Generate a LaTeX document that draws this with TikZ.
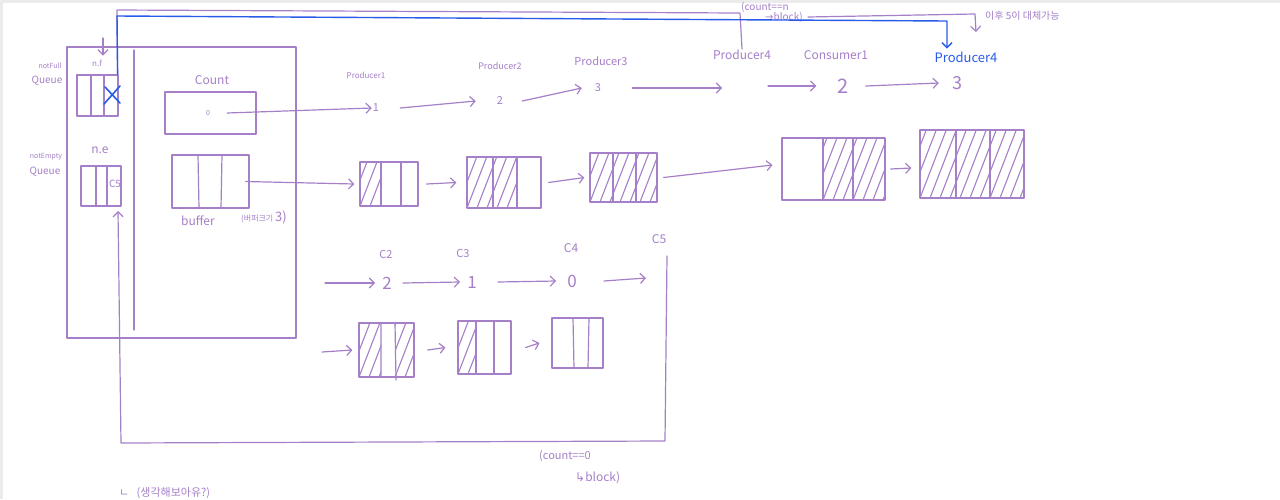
\documentclass[tikz,border=0pt]{standalone}
\usepackage{fontspec}
\setmainfont{Noto Sans CJK KR}
\newfontfamily\djv{DejaVu Sans}
\usetikzlibrary{arrows.meta}
\definecolor{pen}{RGB}{165,128,200}
\definecolor{bpen}{RGB}{40,92,232}
\newcommand\fs[1]{\fontsize{#1}{#1}\selectfont}
\tikzset{
  ink/.style={draw=pen, line width=1.2pt, line cap=round, line join=round},
  bink/.style={draw=bpen, line width=1.4pt, line cap=round, line join=round},
  box/.style={ink, rectangle, inner sep=0pt},
  lbl/.style={text=pen, inner sep=1pt},
  arr/.style={ink, -{Straight Barb[length=5pt,width=10pt]}},
  barr/.style={bink, -{Straight Barb[length=5pt,width=10pt]}},
  hatchline/.style={draw=pen, line width=1.1pt, line cap=round}
}
\newcommand\myhatch[4]{\begin{scope}\clip (#1,#2) rectangle (#3,#4);
  \foreach \s in {-30,-20,...,110}{\draw[hatchline] ({#1+\s},{#4}) -- ++(27,-70);}
\end{scope}}
\begin{document}
\begin{tikzpicture}[x=1pt,y=-1pt]
\useasboundingbox (0,0) rectangle (1280,499);
\fill[white] (0,0) rectangle (1280,499);
\fill[black!8] (0,0) rectangle (1280,3);
\fill[black!8] (0,0) rectangle (3,499);

% left container
\node[box, minimum width=229, minimum height=291] (outer) at (181.5,192.5) {};
\draw[ink] (134,50) -- (134,330);

% queue labels
\node[lbl, font=\fs{7}] (nflbl) at (50,66) {notFull};
\node[lbl, font=\fs{10}] (nfqlbl) at (47,81) {Queue};
\node[lbl, font=\fs{7}] (nelbl) at (46,157) {notEmpty};
\node[lbl, font=\fs{10}] (neqlbl) at (45,172) {Queue};

% notFull queue
\node[lbl, font=\fs{8}] (nf) at (97,63) {n.f};
\coordinate (nfmark) at (103,38);
\draw[arr] (nfmark) -- ([xshift=6pt,yshift=3pt]nf.north);
\node[box, minimum width=41, minimum height=41] (nfq) at (97.5,95.5) {};
\draw[ink] (91,75) -- (91,116) (104,75) -- (104,116);
\draw[bink, line width=1.6pt] (105,87) -- (120,103) (120,86) -- (104,104);

% notEmpty queue
\node[lbl, font=\fs{12}] (ne) at (100,150) {n.e};
\node[box, minimum width=40, minimum height=40] (neq) at (101,186) {};
\draw[ink] (96,166) -- (96,206) (107,166) -- (107,206);
\node[lbl, font=\fs{10}] (c5q) at (115,184) {C5};
\coordinate (netip) at (118,211);

% count
\node[lbl, font=\fs{12}] (countlbl) at (212,80) {Count};
\node[box, minimum width=91, minimum height=42] (countbox) at (210.5,113) {};
\node[lbl, font=\fs{7}] (zero) at (208,113) {0};

% buffer
\node[box, minimum width=77, minimum height=53] (bufbox) at (210.5,181.5) {};
\draw[ink] (198,155) -- (199,208) (222,155) -- (221,208);
\node[lbl, font=\fs{12}, anchor=west] (buflbl) at (180,221) {buffer};
\node[lbl, font=\fs{8}, anchor=west] (bufsz) at (240,217) {(버퍼크기 \fs{13}3)};

% producer row
\node[lbl, font=\fs{8}] (p1) at (366,75) {Producer1};
\node[lbl, font=\fs{11}] (n1) at (376,108) {1};
\node[lbl, font=\fs{9}] (p2) at (500,66) {Producer2};
\node[lbl, font=\fs{11}] (n2) at (500,101) {2};
\node[lbl, font=\fs{11}] (p3) at (601,61) {Producer3};
\node[lbl, font=\fs{11}] (n3) at (598,88) {3};
\node[lbl, font=\fs{12}] (p4a) at (742,55) {Producer4};
\coordinate (gapL) at (722,88);
\coordinate (gapR) at (768,86);
\node[lbl, font=\fs{12}] (c1) at (836,55) {Consumer1};
\node[lbl, font=\fs{20}] (c1n) at (843,86) {2};
\node[text=bpen, inner sep=1pt, font=\fs{13}] (p4b) at (966,57) {Producer4};
\node[lbl, font=\fs{18}] (p4n) at (957,83) {3};

\draw[arr] ([xshift=16pt]zero.east) -- (n1.west);
\draw[arr] ([xshift=20pt]n1.east) -- ([xshift=-20pt]n2.west);
\draw[arr] ([xshift=18pt]n2.east) -- ([xshift=-12pt]n3.west);
\draw[arr] ([xshift=30pt]n3.east) -- (gapL);
\draw[arr] (gapR) -- ([xshift=-20pt]c1n.west);
\draw[arr] ([xshift=16pt]c1n.east) -- ([xshift=-12pt]p4n.west);

% top notes
\node[lbl, font=\fs{10}, anchor=west] (cntn) at (740,7) {(count==n};
\node[lbl, font=\fs{10}, anchor=west] (blk1) at (764,17) {{\djv→}block)};
\coordinate (topL) at (117,10);
\draw[ink] ([xshift=-1pt]nfq.north east) -- (topL) -- (740,13) -- (p4a.north);
\draw[barr] ([xshift=-1pt]nfq.north east) -- (117,16) -- (947,21) -- ([yshift=2pt]p4b.north -| 947,0);
\draw[arr] ([xshift=4pt]blk1.east) -- (975,14) -- (976,32);
\node[lbl, font=\fs{10}, anchor=west] (note1) at (984,16) {이후 5이 대체가능};

% buffer states row
\node[box, minimum width=58, minimum height=44] (b1) at (389,184) {};
\myhatch{360}{162}{381}{206}
\draw[ink] (381,162) -- (381,206) (401,162) -- (401,206);
\node[box, minimum width=74, minimum height=51] (b2) at (504,182.5) {};
\myhatch{467}{157}{517}{208}
\draw[ink] (493,157) -- (493,208) (517,157) -- (517,208);
\node[box, minimum width=67, minimum height=49] (b3) at (623.5,177.5) {};
\myhatch{590}{153}{657}{202}
\draw[ink] (613,153) -- (613,202) (636,153) -- (636,202);
\node[box, minimum width=103, minimum height=62] (b4) at (833.5,169) {};
\myhatch{823}{138}{885}{200}
\draw[ink] (823,138) -- (823,200) (853,138) -- (853,200);
\node[box, minimum width=104, minimum height=68] (b5) at (972,164) {};
\myhatch{920}{130}{1024}{198}
\draw[ink] (956,130) -- (956,198) (990,130) -- (990,198);

\draw[arr] ([xshift=-4pt]bufbox.east) -- ([xshift=-5pt]b1.west);
\draw[arr] ([xshift=8pt]b1.east) -- ([xshift=-10pt]b2.west);
\draw[arr] ([xshift=7pt]b2.east) -- ([xshift=-5pt]b3.west);
\draw[arr] ([xshift=6pt]b3.east) -- ([xshift=-9pt,yshift=4pt]b4.west);
\draw[arr] ([xshift=5pt]b4.east) -- ([xshift=-8pt,yshift=-4pt]b5.west);

% consumer row
\node[lbl, font=\fs{11}] (c2) at (386,254) {C2};
\node[lbl, font=\fs{17}] (r2) at (387,283) {2};
\node[lbl, font=\fs{11}] (c3) at (463,253) {C3};
\node[lbl, font=\fs{17}] (r1) at (472,282) {1};
\node[lbl, font=\fs{12}] (c4) at (571,248) {C4};
\node[lbl, font=\fs{17}] (r0) at (572,281) {0};
\node[lbl, font=\fs{12}] (c5) at (659,239) {C5};
\coordinate (s3) at (325,283);
\coordinate (e3) at (646,278);
\draw[arr] (s3) -- ([xshift=-6pt]r2.west);
\draw[arr] ([xshift=10pt]r2.east) -- ([xshift=-6pt]r1.west);
\draw[arr] ([xshift=20pt]r1.east) -- ([xshift=-10pt]r0.west);
\draw[arr] ([xshift=26pt]r0.east) -- (e3);

\node[box, minimum width=55, minimum height=54] (b6) at (386.5,350) {};
\myhatch{359}{323}{381}{377}
\myhatch{395}{323}{414}{377}
\draw[ink] (381,323) -- (381,377) (395,323) -- (396,380);
\node[box, minimum width=53, minimum height=53] (b7) at (484.5,347.5) {};
\myhatch{458}{321}{476}{374}
\draw[ink] (476,321) -- (476,374) (494,321) -- (494,374);
\node[box, minimum width=51, minimum height=50] (b8) at (577.5,343) {};
\draw[ink] (573,318) -- (574,368) (589,318) -- (588,368);
\coordinate (s4) at (322,352);
\draw[arr] (s4) -- ([xshift=-6pt]b6.west);
\draw[arr] ([xshift=13pt]b6.east) -- ([xshift=-12pt]b7.west);
\draw[arr] ([xshift=14pt]b7.east) -- ([xshift=-12pt]b8.west);

% feedback loop
\coordinate (fbtop) at (667,256);
\draw[arr] (fbtop) -- (665,441) -- (121,443) -- (netip);
\node[lbl, font=\fs{11}, anchor=west] (cnt0) at (538,456) {(count==0};
\node[lbl, font=\fs{12}, anchor=west] (blk0) at (574,478) {{\djv↳}block)};

% bottom note
\node[lbl, font=\fs{11}, anchor=west] (note2) at (118,493) {ㄴ \ \ (생각해보아유?)};
\end{tikzpicture}
\end{document}
